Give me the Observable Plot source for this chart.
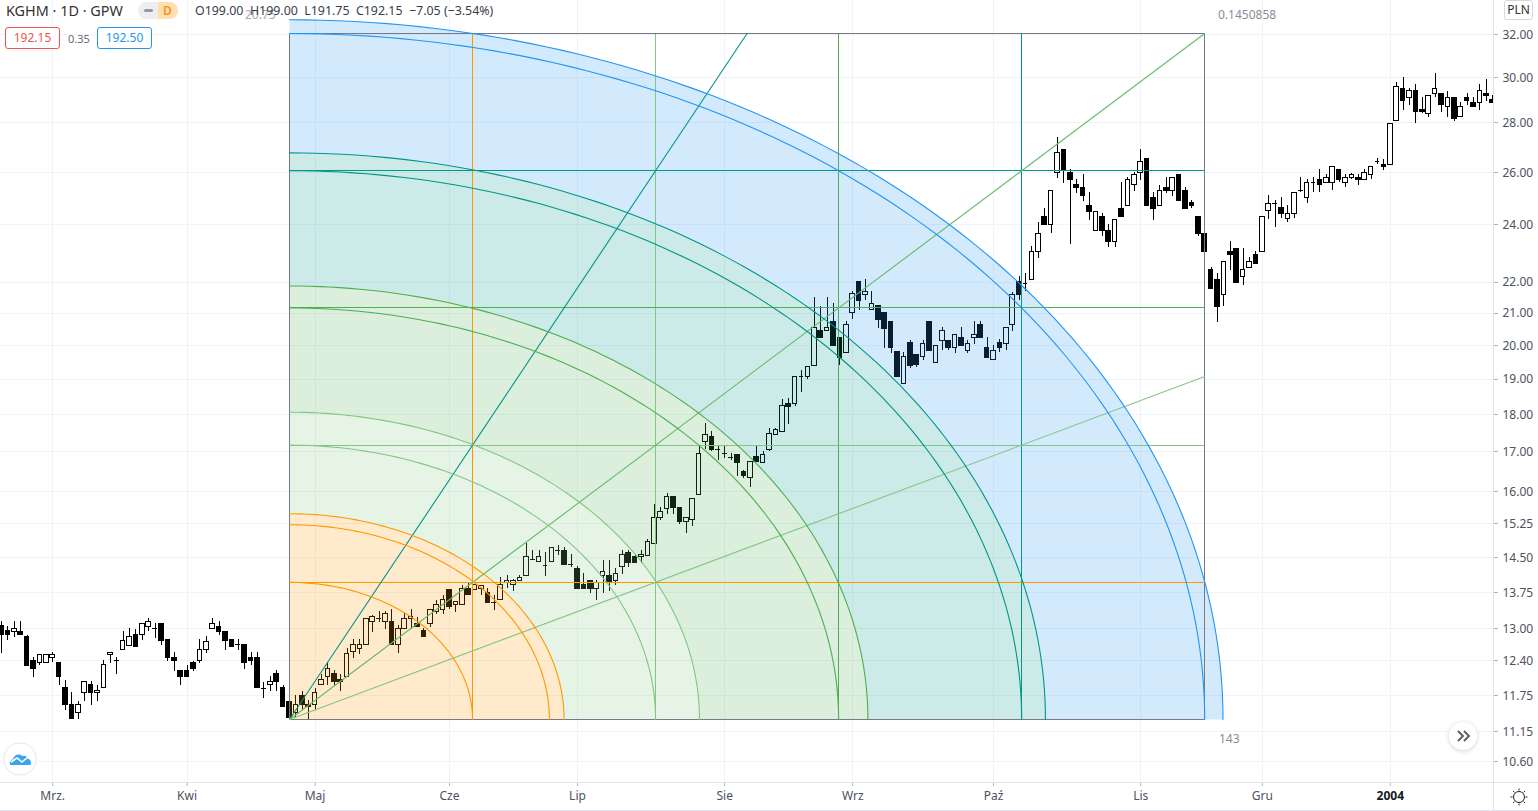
<!DOCTYPE html>
<html><head><meta charset="utf-8">
<script src="https://cdn.jsdelivr.net/npm/d3@7"></script>
<script src="https://cdn.jsdelivr.net/npm/@observablehq/plot@0.6"></script>
<style>
html,body{margin:0;padding:0;background:#fff;overflow:hidden}
#wrap{position:relative;width:1538px;height:811px;font-family:"Noto Sans",sans-serif;color:#131722}
#wrap svg{display:block}
.t{position:absolute;white-space:nowrap;line-height:1}
.box{position:absolute;box-sizing:border-box;height:22px;width:55px;top:27px;border-radius:3px;background:#fff;text-align:center;font-size:12px;line-height:20px}
</style></head><body><div id="wrap"></div>
<script>
// [open, high, low, close] per session
const candlesMarApr = [
[13.02,13.11,12.50,12.85],[12.92,13.02,12.74,12.85],[12.91,13.12,12.81,12.97],[12.91,13.12,12.85,12.85],[12.82,12.85,12.26,12.26],
[12.36,12.42,12.05,12.20],[12.31,12.47,12.26,12.47],[12.31,12.47,12.31,12.47],[12.41,12.51,12.33,12.47],[12.32,12.32,11.90,12.05],
[11.86,12.00,11.46,11.55],[11.56,11.77,11.31,11.31],[11.42,11.61,11.31,11.56],[11.77,11.96,11.61,11.96],[11.91,11.97,11.55,11.77],
[11.77,11.91,11.61,11.80],[11.85,12.36,11.85,12.27],[12.47,12.51,12.31,12.51],[12.36,12.42,12.11,12.36],[12.57,12.91,12.57,12.74],
[12.64,12.97,12.62,12.82],[12.85,12.95,12.62,12.62],[12.85,13.07,12.74,13.07],[13.01,13.17,12.91,13.11],[12.97,13.07,12.79,12.97],
[13.07,13.07,12.65,12.74],[12.76,12.76,12.34,12.40],[12.41,12.51,12.16,12.35],[12.17,12.17,11.90,12.05],[12.17,12.27,12.05,12.05],
[12.31,12.35,12.16,12.20],[12.35,12.76,12.31,12.57],[12.57,12.82,12.50,12.71],[12.97,13.17,12.97,13.07],[13.01,13.11,12.85,12.91],
[12.91,12.91,12.56,12.74],[12.76,12.76,12.62,12.62],[12.66,12.76,12.56,12.66],[12.66,12.66,12.20,12.31],[12.41,12.51,12.26,12.35],
[12.41,12.51,11.85,11.85],[11.85,11.96,11.66,11.85],[11.91,12.06,11.79,11.96],[12.11,12.17,11.79,11.96],[11.85,11.91,11.52,11.52]];
const candlesMayJun = [
[11.60,11.62,11.33,11.33],[11.41,11.72,11.34,11.55],[11.72,11.80,11.45,11.55],[11.55,11.63,11.30,11.51],[11.55,11.84,11.45,11.76],
[11.91,12.11,11.91,12.00],[12.05,12.33,11.91,12.21],[12.11,12.17,11.91,11.96],[12.00,12.11,11.80,11.96],[12.05,12.59,12.05,12.48],
[12.52,12.76,12.40,12.66],[12.58,12.76,12.48,12.66],[12.66,13.17,12.66,13.17],[13.10,13.23,12.90,13.20],[13.17,13.32,13.09,13.17],
[13.10,13.32,12.96,13.27],[13.10,13.35,12.66,12.66],[12.66,13.03,12.50,12.97],[12.97,13.27,12.97,13.17],[13.17,13.35,12.96,13.20],
[13.06,13.19,13.00,13.00],[12.92,12.97,12.81,12.81],[13.06,13.35,13.00,13.35],[13.30,13.55,13.26,13.44],[13.35,13.65,13.26,13.55],
[13.76,13.76,13.35,13.40],[13.45,13.51,13.30,13.51],[13.44,13.85,13.44,13.79],[13.79,13.89,13.65,13.65],[13.76,13.90,13.76,13.86],
[13.79,13.85,13.64,13.85],[13.70,13.79,13.50,13.50],[13.51,13.64,13.34,13.51],[13.55,14.02,13.55,13.86],[13.91,14.07,13.79,13.95],
[13.86,13.98,13.73,13.95],[13.95,14.07,13.95,14.01],[14.06,14.76,14.06,14.46],[14.41,14.62,14.41,14.41],[14.36,14.61,14.36,14.46],
[14.29,14.57,14.05,14.29],[14.36,14.67,14.36,14.67]];
const candlesJulAug = [
[14.60,14.72,14.49,14.60],[14.60,14.67,14.30,14.30],[14.30,14.52,14.24,14.30],[14.20,14.25,13.79,13.79],[13.87,14.10,13.76,13.79],
[13.95,13.95,13.69,13.79],[13.79,13.95,13.54,13.90],[14.05,14.39,13.68,14.15],[14.05,14.39,13.73,13.93],[13.94,14.22,13.86,14.10],
[14.24,14.60,14.08,14.51],[14.55,14.60,14.24,14.33],[14.47,14.52,14.33,14.33],[14.47,14.60,14.33,14.52],[14.50,14.85,14.50,14.80],
[14.75,15.67,14.75,15.34],[15.34,15.59,15.30,15.50],[15.56,15.94,15.44,15.84],[15.84,15.84,15.44,15.59],[15.59,15.59,15.19,15.25],
[15.25,15.34,15.00,15.34],[15.30,15.80,15.15,15.80],[15.90,17.13,15.90,16.93],[17.22,17.71,17.04,17.41],[17.35,17.50,16.98,17.03],
[17.03,17.15,16.74,17.03],[16.93,17.15,16.81,16.93],[16.83,16.93,16.74,16.83],[16.88,16.88,16.35,16.70],[16.47,16.51,16.31,16.36],
[16.31,16.71,16.08,16.71],[16.83,17.11,16.71,16.71],[16.70,16.99,16.70,16.89],[17.03,17.60,16.98,17.44],[17.42,17.60,17.42,17.55],
[17.49,18.38,17.49,18.21],[18.26,18.40,17.69,18.18],[18.26,19.02,18.18,19.02],[19.02,19.20,18.57,19.02],[19.02,19.30,18.96,19.30]];
const candlesSepOct = [
[19.35,21.46,19.35,20.48],[20.40,21.16,20.17,20.17],[20.39,21.46,20.39,20.49],[20.68,21.26,19.93,19.93],[20.19,20.19,19.35,19.57],
[19.71,20.68,19.71,20.58],[20.96,21.67,20.74,21.56],[21.96,21.96,21.04,21.35],[21.55,22.05,21.35,21.65],[21.06,21.65,21.06,21.26],
[21.17,21.17,20.46,20.75],[20.97,20.97,19.86,20.47],[20.68,20.68,19.72,19.86],[19.74,19.74,18.99,19.02],[18.82,19.74,18.82,19.60],
[20.02,20.11,19.28,19.35],[19.66,19.66,19.30,19.37],[19.60,20.11,19.50,20.01],[20.68,20.68,19.79,19.79],[19.44,19.94,19.44,19.94],
[20.10,20.51,19.79,20.40],[20.10,20.10,19.79,19.86],[19.86,20.27,19.72,20.27],[20.19,20.49,19.94,19.94],[19.79,20.11,19.71,20.01],
[20.19,20.68,19.99,20.28],[20.58,20.68,20.18,20.18],[19.86,20.19,19.59,19.59],[19.51,19.96,19.51,19.79],[20.02,20.14,19.74,19.88],
[20.01,20.48,19.79,20.48],[20.58,21.64,20.38,21.55],[21.96,22.16,21.35,21.54],[21.93,22.27,21.65,21.93]];
const candlesOctNov = [
[22.05,23.18,22.05,22.99],[22.99,24.04,22.78,23.65],[24.26,24.56,23.96,23.96],[23.95,25.24,23.64,25.24],[25.94,27.35,25.73,26.73],
[26.86,26.86,25.53,26.03],[25.94,26.05,23.25,25.65],[25.48,25.66,25.15,25.34],[25.35,25.87,24.84,25.03],[24.67,25.18,24.12,24.43],
[23.75,24.45,23.75,24.45],[24.26,24.37,23.55,23.74],[23.75,23.96,23.15,23.36],[23.36,24.15,23.15,24.15],[24.56,25.57,24.25,24.25],
[24.66,25.75,24.66,25.66],[25.47,25.96,25.21,25.86],[25.94,26.87,25.63,26.37],[26.47,26.47,24.66,24.66],[24.97,25.18,24.12,24.55],
[24.66,25.44,24.66,25.24],[25.35,25.74,25.15,25.24],[25.24,25.74,25.02,25.74],[25.86,25.86,24.84,24.84],[25.24,25.35,24.55,24.55],
[24.76,24.87,24.55,24.65],[24.26,24.26,23.55,23.64],[23.65,23.65,22.98,22.98],[22.36,22.47,21.75,21.75],[22.05,22.26,20.66,21.16],
[21.55,22.66,21.16,22.66],[22.99,23.37,22.35,22.88],[23.11,23.11,21.95,21.95],[22.15,23.11,21.85,22.36],[22.46,22.79,22.46,22.66],
[22.89,23.00,22.58,22.58],[22.99,24.26,22.99,24.26],[24.46,25.04,24.15,24.75]];
const candlesDecJan = [
[24.76,24.86,23.88,24.76],[24.58,24.98,24.18,24.38],[24.18,24.69,24.06,24.38],[24.38,25.17,24.18,25.17],[25.24,25.77,25.16,25.24],
[24.98,25.67,24.75,25.55],[25.55,25.74,25.16,25.55],[25.67,26.07,25.16,25.46],[25.55,25.86,25.55,25.74],[25.55,26.16,25.23,26.16],
[26.05,26.05,25.55,25.65],[25.55,25.86,25.35,25.74],[25.74,25.92,25.67,25.85],[25.74,25.86,25.46,25.67],[25.67,26.05,25.67,25.92],
[25.86,26.16,25.67,26.16],[26.39,26.49,26.25,26.39],[26.25,26.45,26.03,26.16],[26.25,27.94,26.25,27.94],[28.05,29.73,28.05,29.54],
[29.46,29.96,28.51,28.91],[29.06,29.46,28.73,29.36],[29.36,29.66,27.94,28.44],[28.54,29.06,28.37,28.44],[28.37,29.15,28.23,29.15],
[29.24,30.14,29.06,29.46],[29.24,29.24,28.44,28.75],[28.67,29.36,28.23,29.06],[29.06,29.06,28.05,28.13],[28.24,28.84,28.24,28.67],
[29.06,29.24,28.75,28.91],[28.84,29.06,28.66,28.66],[28.84,29.66,28.51,29.36],[29.24,29.87,28.91,29.15],[28.97,29.17,28.84,28.84]];

const firstSession = -45;
// The scale's grid prices, and the rounded labels printed beside them
const gridPrices = [32,29.96,28,25.95,23.96,21.97,20.96,19.96,18.96,17.97,16.97,15.98,15.22,14.45,13.71,12.97,12.36,11.72,11.09,10.60];
const gridLabels = ["32.00","30.00","28.00","26.00","24.00","22.00","21.00","20.00","19.00","18.00","17.00","16.00","15.25","14.50","13.75","13.00","12.40","11.75","11.15","10.60"];
const monthTicks = [-37,-16,4,25,45,68,88,110,133,152];
const monthLabels = ["Mrz.","Kwi","Maj","Cze","Lip","Sie","Wrz","Paź","Lis","Gru"];
const yearTick = [172], yearLabel = "2004";

// Fan anchor: start session 0 at 11.30, box 143 sessions wide, top at 32
const fanBars = 143, fanLow = 11.301, fanHigh = 32.05;
const boxLevels = [0.2,0.4,0.6,0.8,1];
const boxColors = ["#ff9800","#81c784","#4caf50","#009688","#787b86"];
const arcLevels = [0.2,0.284,0.3,0.4,0.448,0.6,0.632,0.8,0.826,1,1.02];
const arcColors = ["#ff9800","#ff9800","#ff9800","#81c784","#81c784","#4caf50","#4caf50","#009688","#009688","#2196f3","#2196f3"];
const bandStops = [0,0.3,0.448,0.632,0.826,1.02];
const bandColors = ["#ff9800","#81c784","#4caf50","#009688","#2196f3"];
const rayEnds = [[0.5,1,"#009688"],[1,1,"#66bb6a"],[1,0.5,"#81c784"]];

const candles = [...candlesMarApr,...candlesMayJun,...candlesJulAug,...candlesSepOct,...candlesOctNov,...candlesDecJan]
  .map(([o,h,l,c],k)=>({i:k+firstSession,o,h,l,c}));
const fx = f => f*fanBars;
const fy = f => fanLow*Math.pow(fanHigh/fanLow,f);
const degs = d3.range(0,90.5,1);
const arcPts = r => degs.map(a=>({x:fx(r*Math.cos(a*Math.PI/180)),y:fy(r*Math.sin(a*Math.PI/180))}));
const bandPoly = (r1,r2)=>[...arcPts(r2),...(r1>0?arcPts(r1).reverse():[{x:0,y:fanLow}])];

const FONT = '"Noto Sans",sans-serif';
const hair = 0.35, dojiW = 0.39;
const gridCol = "#f0f3fa", axisCol="#e0e3eb", txtCol="#4c525e";
const crisp = {shapeRendering:"crispEdges"};

const marks = [
  Plot.gridX([...monthTicks,...yearTick],{stroke:gridCol,strokeOpacity:1,...crisp}),
  Plot.gridY(gridPrices,{stroke:gridCol,strokeOpacity:1,...crisp}),
  Plot.ruleX(candles,{x:"i",y1:"l",y2:"h",stroke:"#000",strokeWidth:1,clip:true,...crisp}),
  Plot.rect(candles.filter(d=>d.o!==d.c),{x1:d=>d.i-hair,x2:d=>d.i+hair,y1:"o",y2:"c",fill:d=>d.c>d.o?"#fff":"#000",stroke:"#000",strokeWidth:1,clip:true,...crisp}),
  Plot.ruleY(candles.filter(d=>d.o===d.c),{y:"o",x1:d=>d.i-dojiW,x2:d=>d.i+dojiW,stroke:"#000",strokeWidth:1,clip:true,...crisp}),
  // fan bands
  ...bandColors.map((col,k)=>Plot.line(bandPoly(bandStops[k],bandStops[k+1]),{x:"x",y:"y",fill:col,fillOpacity:0.2,stroke:"none"})),
  // box lines, one mark per level with its own colour
  Plot.ruleX([0],{y1:fanLow,y2:fanHigh,stroke:"#787b86",strokeWidth:1,...crisp}),
  Plot.ruleY([fanLow],{x1:0,x2:fanBars,stroke:"#787b86",strokeWidth:1,...crisp}),
  ...boxLevels.map((f,k)=>Plot.ruleX([fx(f)],{y1:fanLow,y2:fanHigh,stroke:boxColors[k],strokeWidth:1,...crisp})),
  ...boxLevels.map((f,k)=>Plot.ruleY([fy(f)],{x1:0,x2:fanBars,stroke:boxColors[k],strokeWidth:1,...crisp})),
  // rays
  ...rayEnds.map(([a,b,col])=>Plot.line([[0,0],[a,b]],{x:d=>fx(d[0]),y:d=>fy(d[1]),stroke:col,strokeWidth:1.1})),
  // arcs
  ...arcLevels.map((r,k)=>Plot.line(arcPts(r),{x:"x",y:"y",stroke:arcColors[k],strokeWidth:1.1})),
  // axes
  Plot.axisY(gridPrices,{anchor:"right",text:null,tickSize:4,stroke:"#b2b5be",label:null,...crisp}),
  Plot.axisY(gridPrices,{anchor:"right",tickFormat:d=>gridLabels[gridPrices.indexOf(d)],tickSize:0,tickPadding:9,dy:0.5,fill:txtCol,label:null,fontSize:12}),
  Plot.axisX(monthTicks,{anchor:"bottom",tickFormat:d=>monthLabels[monthTicks.indexOf(d)],tickSize:4,tickPadding:5,stroke:"#b2b5be",fill:txtCol,label:null,fontSize:12}),
  Plot.axisX(yearTick,{anchor:"bottom",tickFormat:()=>yearLabel,tickSize:4,tickPadding:5,stroke:"#b2b5be",fill:"#131722",fontWeight:"bold",label:null,fontSize:12})
];

const chart = Plot.plot({
  width:1538,height:811,
  marginLeft:0,marginTop:0,marginRight:45,marginBottom:29,
  x:{type:"linear",domain:[-45.156,188.125],label:null},
  y:{type:"log",domain:[10.27,33.70],label:null},
  style:{fontFamily:FONT,fontSize:"12px",background:"#fff",color:txtCol},
  marks
});
const wrap = document.getElementById("wrap");
wrap.appendChild(chart);

function add(html){const d=document.createElement("div");d.innerHTML=html;while(d.firstChild)wrap.appendChild(d.firstChild);}
add(`
<div style="position:absolute;left:0;top:782px;width:1538px;height:1px;background:${axisCol}"></div>
<div style="position:absolute;left:1493px;top:0;width:1px;height:810px;background:${axisCol}"></div>
<div style="position:absolute;left:0;top:810px;width:1538px;height:1px;background:${axisCol}"></div>
<div class="t" style="left:245px;top:9px;font-size:12px;color:#a6a8b0">20.75</div>
<div class="t" style="left:1218px;top:9px;font-size:12px;color:#8a8d96">0.1450858</div>
<div class="t" style="left:1219px;top:733px;font-size:12px;color:#8a8d96">143</div>
<div class="t" style="left:6px;top:4px;font-size:14.4px;color:#333">KGHM · 1D · GPW</div>
<div style="position:absolute;left:138px;top:2px;width:40px;height:17px;border-radius:9px;background:#eceef2;overflow:hidden">
 <div style="position:absolute;left:20px;top:0;width:20px;height:17px;background:#ffdfb0"></div>
 <div style="position:absolute;left:6px;top:7px;width:9px;height:3px;border-radius:2px;background:#9598a1"></div>
 <div class="t" style="left:25px;top:3px;font-size:12px;font-weight:600;color:#f7931a">D</div>
</div>
<div class="t" style="left:195px;top:5px;font-size:12.4px;color:#3a3e4a">O199.00&nbsp; H199.00&nbsp; L191.75&nbsp; C192.15&nbsp; −7.05 (−3.54%)</div>
<div class="box" style="left:5px;border:1px solid #ef5350;color:#ef5350">192.15</div>
<div class="t" style="left:68px;top:33px;font-size:11px;color:#6a6d78">0.35</div>
<div class="box" style="left:97px;border:1px solid #2196f3;color:#2196f3">192.50</div>
<div style="position:absolute;left:1504px;top:0;width:29px;height:20px;border:1px solid #d6d8e0;border-radius:3px;box-sizing:border-box;background:#fff;text-align:center;font-size:12px;line-height:18px;color:#333">PLN</div>
<svg style="position:absolute;left:3px;top:742px" width="34" height="34" viewBox="0 0 34 34"><circle cx="17" cy="17" r="16.2" fill="#fff" stroke="#e3e5ea"/>
<path d="M7 23c-1-3 1-5 3-6 1-4 6-6 9-3 3-1 6 1 6 3 2 0 3 2 3 4s-1 2-2 2z" fill="#3ba4ef"/><path d="M8 20l6-4 5 4 6-5" fill="none" stroke="#fff" stroke-width="1.6"/></svg>
<div style="position:absolute;left:1449px;top:722px;width:28px;height:28px;border-radius:14px;background:#fff;box-shadow:0 1px 5px rgba(0,0,0,.18)"></div>
<svg style="position:absolute;left:1449px;top:722px" width="28" height="28"><path d="M9 9l5 5-5 5M15 9l5 5-5 5" fill="none" stroke="#5d606b" stroke-width="2"/></svg>
<svg style="position:absolute;left:1509px;top:787px" width="20" height="20" viewBox="0 0 20 20"><circle cx="10" cy="10" r="5.5" fill="none" stroke="#222" stroke-width="1"/><path d="M10 1.5v2M10 16.5v2M1.5 10h2M16.5 10h2M4 4l1.4 1.4M14.6 14.6L16 16M4 16l1.4-1.4M14.6 5.4L16 4" stroke="#222"/></svg>
`);
</script></body></html>
